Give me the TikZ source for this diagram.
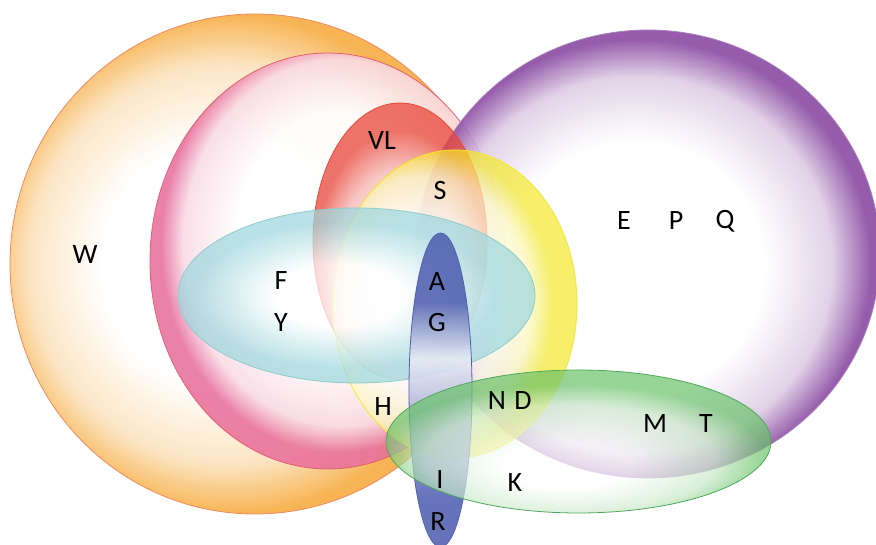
\documentclass[tikz,border=0pt]{standalone}
\usepackage{fontspec}
\setmainfont{Carlito}
\definecolor{cOr}{HTML}{F6AE45}
\definecolor{cOrL}{HTML}{F08A60}
\definecolor{cPk}{HTML}{E8709C}
\definecolor{cPkL}{HTML}{E8606E}
\definecolor{cPu}{HTML}{8A4AA2}
\definecolor{cRd}{HTML}{E8463A}
\definecolor{cYe}{HTML}{F4E82C}
\definecolor{cCy}{HTML}{9ED8DE}
\definecolor{cCyL}{HTML}{90CCCC}
\definecolor{cBl}{HTML}{5060B0}
\definecolor{cGr}{HTML}{66C266}
\definecolor{cGrL}{HTML}{4EA85A}
\colorlet{mOr}{cOr!35!white}
\colorlet{mPk}{cPk!25!white}
\colorlet{mPu}{cPu!28!white}
\colorlet{mRd}{cRd!40!white}
\colorlet{mYe}{cYe!30!white}
\colorlet{mCy}{cCy!60!white}
\colorlet{mGr}{cGr!35!white}
\colorlet{mBlA}{cBl!55!white}
\colorlet{mBlB}{cBl!12!white}
\pgfdeclareradialshading{shOr}{\pgfpoint{-5bp}{0bp}}{color(0bp)=(white); color(12bp)=(white); color(20bp)=(mOr); color(25bp)=(cOr); color(50bp)=(cOr)}
\pgfdeclareradialshading{shPk}{\pgfpoint{3bp}{4bp}}{color(0bp)=(white); color(15bp)=(white); color(22bp)=(mPk); color(25bp)=(cPk); color(50bp)=(cPk)}
\pgfdeclareradialshading{shPu}{\pgfpoint{-2bp}{-2bp}}{color(0bp)=(white); color(14bp)=(white); color(21bp)=(mPu); color(25bp)=(cPu); color(50bp)=(cPu)}
\pgfdeclareradialshading{shRd}{\pgfpoint{0bp}{-10bp}}{color(0bp)=(white); color(8bp)=(white); color(19bp)=(mRd); color(25bp)=(cRd); color(50bp)=(cRd)}
\pgfdeclareradialshading{shYe}{\pgfpoint{-10bp}{0bp}}{color(0bp)=(white); color(13bp)=(white); color(21bp)=(mYe); color(25bp)=(cYe); color(50bp)=(cYe)}
\pgfdeclareradialshading{shCy}{\pgfpoint{-3bp}{0bp}}{color(0bp)=(white); color(9bp)=(white); color(16bp)=(mCy); color(21bp)=(cCy); color(50bp)=(cCy)}
\pgfdeclareverticalshading{shBl}{100bp}{color(0bp)=(cBl); color(25bp)=(cBl); color(33bp)=(cBl); color(45bp)=(mBlA); color(55bp)=(mBlB); color(64bp)=(cBl); color(75bp)=(cBl); color(100bp)=(cBl)}
\pgfdeclareradialshading{shGr}{\pgfpoint{-2bp}{-10bp}}{color(0bp)=(white); color(8bp)=(white); color(19bp)=(mGr); color(25bp)=(cGr); color(50bp)=(cGr)}
\tikzset{
  lbl/.style={font=\fontsize{28}{30}\selectfont, inner sep=0pt, text=black},
  setshape/.style={line width=0.8pt}
}
\begin{document}
\begin{tikzpicture}[x=1pt,y=1pt]
\useasboundingbox (0,0) rectangle (876,545);
% orange (W)
\path[setshape, shading=shOr, fill opacity=0.92, draw=cOrL] (255,281) ellipse [x radius=245, y radius=250];
% pink
\path[setshape, shading=shPk, fill opacity=0.88, draw=cPkL] (328,284) ellipse [x radius=178, y radius=208];
% purple
\path[setshape, shading=shPu, fill opacity=0.9, draw=cPu!70] (648,291) ellipse [x radius=232, y radius=224];
% red (VL)
\path[setshape, shading=shRd, fill opacity=0.75, draw=cRd] (400,304) ellipse [x radius=87, y radius=138];
% yellow
\path[setshape, shading=shYe, fill opacity=0.7, draw=cYe] (455,241) ellipse [x radius=122, y radius=154];
% cyan
\path[setshape, shading=shCy, fill opacity=0.72, draw=cCyL] (356.5,249.5) ellipse [x radius=178.5, y radius=87.5];
% blue
\path[setshape, shading=shBl, fill opacity=0.88, draw=cBl] (440.5,155) ellipse [x radius=31.5, y radius=157];
% green
\path[setshape, shading=shGr, fill opacity=0.68, draw=cGrL] (578.5,103.5) ellipse [x radius=192.5, y radius=71.5];
% labels
\node[lbl] (W) at (85,290) {W};
\node[lbl] (F) at (281,264) {F};
\node[lbl] (Y) at (281,222) {Y};
\node[lbl] (VL) at (382,404) {VL};
\node[lbl] (S) at (440,354) {S};
\node[lbl] (A) at (437,263) {A};
\node[lbl] (G) at (437,222) {G};
\node[lbl] (E) at (624,324) {E};
\node[lbl] (P) at (676,324) {P};
\node[lbl] (Q) at (725,324) {Q};
\node[lbl] (H) at (383,138) {H};
\node[lbl] (N) at (497,144) {N};
\node[lbl] (D) at (523,144) {D};
\node[lbl] (M) at (655,121) {M};
\node[lbl] (T) at (706,121) {T};
\node[lbl] (I) at (440,65) {I};
\node[lbl] (K) at (515,62) {K};
\node[lbl] (R) at (438,23) {R};
\end{tikzpicture}
\end{document}
